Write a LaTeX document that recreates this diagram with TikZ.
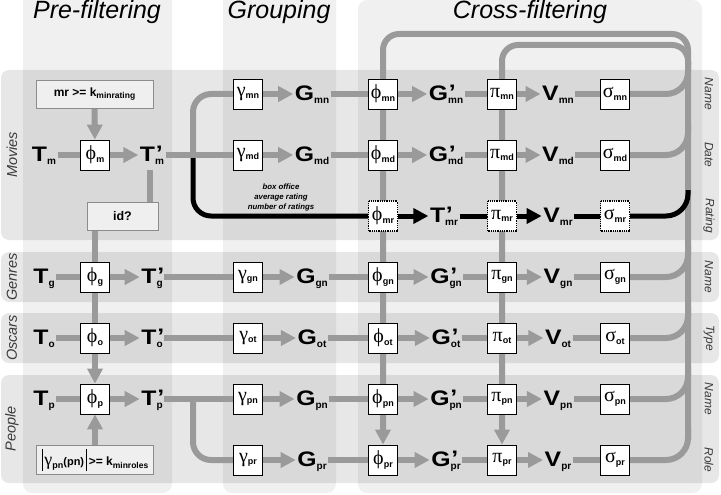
\documentclass[tikz,border=0pt]{standalone}
\usepackage{fontspec}
\setmainfont{Liberation Sans}
\newfontfamily\grkfont{Liberation Serif}
\newfontfamily\bigf{Liberation Sans}[FakeStretch=1.18]
\usetikzlibrary{arrows.meta}
\pgfdeclarelayer{bgl}
\pgfdeclarelayer{lnl}
\pgfsetlayers{bgl,lnl,main}
\definecolor{lg}{HTML}{9A9A9A}
\definecolor{colbg}{HTML}{F0F0F0}
\definecolor{boxbg}{HTML}{EFEFEF}
\definecolor{lblc}{HTML}{3A3A3A}
\newcommand\Lbl[3]{{\bigf\bfseries\fontsize{21}{21}\selectfont #1\makebox[0pt][l]{\hspace{0.8pt}\raisebox{0.5pt}{#2}}}\raisebox{-3pt}{\fontsize{10}{10}\selectfont\bfseries #3}}
\newcommand\Gk[2]{{\grkfont\fontsize{20}{20}\selectfont #1}\raisebox{-2.5pt}{\fontsize{9}{9}\selectfont\bfseries #2}}
\begin{document}
\begin{tikzpicture}[x=1pt,y=-1pt,
  gl/.style={draw=lg, line width=6pt},
  ga/.style={gl, -{Triangle[length=15pt,width=15pt]}},
  bl/.style={draw=black, line width=5pt},
  ba/.style={bl, -{Triangle[length=15pt,width=15pt]}},
  bx/.style={draw=black, fill=white, line width=0.8pt, minimum width=29pt, minimum height=30pt, inner sep=0pt},
  dbx/.style={bx, densely dotted, line width=1.3pt},
  lab/.style={inner sep=1.5pt, text height=15pt, text depth=3pt},
  cond/.style={draw=black!45, fill=boxbg, line width=0.6pt, inner sep=0pt},
  ttl/.style={font=\fontsize{25}{25}\selectfont\itshape},
  rowl/.style={font=\fontsize{14.5}{14.5}\selectfont\itshape, text=lblc, rotate=90},
  attl/.style={font=\fontsize{12}{12}\selectfont\itshape, text=lblc, rotate=-90},
  ann/.style={font=\fontsize{7.8}{10}\selectfont\bfseries\itshape, align=center, inner sep=0pt}
]
\useasboundingbox (0,0) rectangle (721,495);
% ---------- backgrounds
\begin{pgfonlayer}{bgl}
\fill[colbg, rounded corners=9] (23,-12) rectangle (172,493);
\fill[colbg, rounded corners=9] (223,-12) rectangle (336,493);
\fill[colbg, rounded corners=9] (358,0) rectangle (702,493);
\begin{scope}[fill opacity=0.095]
\fill[black, rounded corners=8] (1,70) rectangle (719,240);
\fill[black, rounded corners=8] (1,252) rectangle (719,302);
\fill[black, rounded corners=8] (1,313) rectangle (719,363);
\fill[black, rounded corners=8] (1,375) rectangle (719,483);
\end{scope}
\end{pgfonlayer}
% ---------- titles and side labels
\node[ttl] (tpre) at (97,12) {Pre-filtering};
\node[ttl] (tgrp) at (279,12) {Grouping};
\node[ttl] (tcrs) at (530,12) {Cross-filtering};
\node[rowl] (lmov) at (12,155) {Movies};
\node[rowl] (lgen) at (12,277) {Genres};
\node[rowl] (losc) at (12,338) {Oscars};
\node[rowl] (lppl) at (12,429) {People};
\foreach \nm/\yy/\tx in {a1/94/Name, a2/155/Date, a3/216/Rating, a4/277/Name, a5/338/Type, a6/399/Name, a7/460/Role}
  \node[attl] (\nm) at (709,\yy) {\tx};
% ---------- pre-filtering nodes
\node[lab] (Tm) at (44,155) {\Lbl{T}{}{m}};
\node[bx] (phim) at (95,155) {\Gk{ϕ}{m}};
\node[lab] (Tpm) at (152,155) {\Lbl{T}{’}{m}};
\node[cond, minimum width=117pt, minimum height=28pt] (cmr) at (94.5,94) {\fontsize{12}{12}\selectfont\bfseries mr >= k\raisebox{-2.5pt}{\fontsize{8.5}{8.5}\selectfont minrating}};
\node[cond, minimum width=71pt, minimum height=28pt] (cid) at (122.5,216) {\fontsize{12.5}{12.5}\selectfont\bfseries id?};
\node[lab] (Tg) at (44,277) {\Lbl{T}{}{g}};
\node[bx] (phig) at (95,277) {\Gk{ϕ}{g}};
\node[lab] (Tpg) at (152,277) {\Lbl{T}{’}{g}};
\node[lab] (To) at (44,338) {\Lbl{T}{}{o}};
\node[bx] (phio) at (95,338) {\Gk{ϕ}{o}};
\node[lab] (Tpo) at (152,338) {\Lbl{T}{’}{o}};
\node[lab] (Tp) at (44,399) {\Lbl{T}{}{p}};
\node[bx] (phip) at (95,399) {\Gk{ϕ}{p}};
\node[lab] (Tpp) at (152,399) {\Lbl{T}{’}{p}};
\node[cond, minimum width=117pt, minimum height=29pt] (cpn) at (95,459.5) {\rule[-5pt]{1.2pt}{22pt}\hspace{1.5pt}{\grkfont\fontsize{18}{18}\selectfont γ}\raisebox{-2.5pt}{\fontsize{9}{9}\selectfont\bfseries pn}{\fontsize{11}{11}\selectfont\bfseries (pn)}\hspace{1.5pt}\rule[-5pt]{1.2pt}{22pt}\hspace{2pt}{\fontsize{12}{12}\selectfont\bfseries >= k}\raisebox{-2.5pt}{\fontsize{8.5}{8.5}\selectfont\bfseries minroles}};
% ---------- grouping and cross-filtering nodes
\foreach \rw/\yy in {mn/94, md/155, gn/277, ot/338, pn/399, pr/460} {
  \node[bx] (gam\rw) at (248,\yy) {\Gk{γ}{\rw}};
  \node[lab] (G\rw) at (312,\yy) {\Lbl{G}{}{\rw}};
  \node[bx] (phi\rw) at (383,\yy) {\Gk{ϕ}{\rw}};
  \node[lab] (Gp\rw) at (446,\yy) {\Lbl{G}{’}{\rw}};
  \node[bx] (pi\rw) at (502,\yy) {\Gk{π}{\rw}};
  \node[lab] (V\rw) at (558,\yy) {\Lbl{V}{}{\rw}};
  \node[bx] (sig\rw) at (615,\yy) {\Gk{σ}{\rw}};
}
\node[dbx] (phimr) at (383,216) {\Gk{ϕ}{mr}};
\node[lab] (Tpmr) at (444,216) {\Lbl{T}{’}{mr}};
\node[dbx] (pimr) at (502,216) {\Gk{π}{mr}};
\node[lab] (Vmr) at (558,216) {\Lbl{V}{}{mr}};
\node[dbx] (sigmr) at (615,216) {\Gk{σ}{mr}};
\node[ann] (annot) at (281,197) {box office\\average rating\\number of ratings};
% ---------- helper coordinates
\coordinate (brm) at (193,155);
\coordinate (brp) at (193,399);
\coordinate (idt) at (150,170);
\coordinate (rv) at (688,0);
\coordinate (rvb) at (688,440);
\coordinate (rvt) at (688,34);
\coordinate (lpt) at (383,34);
\coordinate (irb) at (688,66);
\coordinate (irt) at (688,45);
\coordinate (ipt) at (502,45);
% ---------- connectors
\begin{pgfonlayer}{lnl}
\draw[bl, rounded corners=18] (brm) -- (brm |- phimr) -- (phimr);
\draw[gl] (Tm) -- (phim);
\draw[ga] (phim) -- (Tpm);
\draw[ga] (cmr) -- (phim);
\draw[gl] (Tpm) -- (gammd);
\draw[gl, rounded corners=18] (brm) -- (brm |- gammn) -- (gammn);
\draw[gl] (idt) -- (idt |- cid.north);
\draw[ga] (cid.south -| phim) -- (phip);
\draw[gl] (Tg) -- (phig);
\draw[ga] (phig) -- (Tpg);
\draw[gl] (Tpg) -- (gamgn);
\draw[gl] (To) -- (phio);
\draw[ga] (phio) -- (Tpo);
\draw[gl] (Tpo) -- (gamot);
\draw[gl] (Tp) -- (phip);
\draw[ga] (phip) -- (Tpp);
\draw[gl] (Tpp) -- (gampn);
\draw[gl, rounded corners=18] (brp) -- (brp |- gampr) -- (gampr);
\draw[ga] (cpn) -- (phip);
\draw[ga, rounded corners=16] (rvb) -- (rvt) -- (lpt) -- (phipr);
\draw[ga, rounded corners=16] (irb) -- (irt) -- (ipt) -- (pipr);
\foreach \rw in {mn,md,gn,ot,pn,pr} {
  \draw[ga] (gam\rw) -- (G\rw);
  \draw[gl] (G\rw) -- (phi\rw);
  \draw[ga] (phi\rw) -- (Gp\rw);
  \draw[gl] (Gp\rw) -- (pi\rw);
  \draw[ga] (pi\rw) -- (V\rw);
  \draw[gl] (V\rw) -- (sig\rw);
  \draw[gl, rounded corners=22] (sig\rw.east) -- (sig\rw.east -| rv) -- ++(0,-32);
}
\draw[ba] (phimr) -- (Tpmr);
\draw[bl] (Tpmr) -- (pimr);
\draw[ba] (pimr) -- (Vmr);
\draw[bl] (Vmr) -- (sigmr);
\draw[bl, rounded corners=22] (sigmr.east) -- (sigmr.east -| rv) -- ++(0,-26);
\end{pgfonlayer}
\end{tikzpicture}
\end{document}
